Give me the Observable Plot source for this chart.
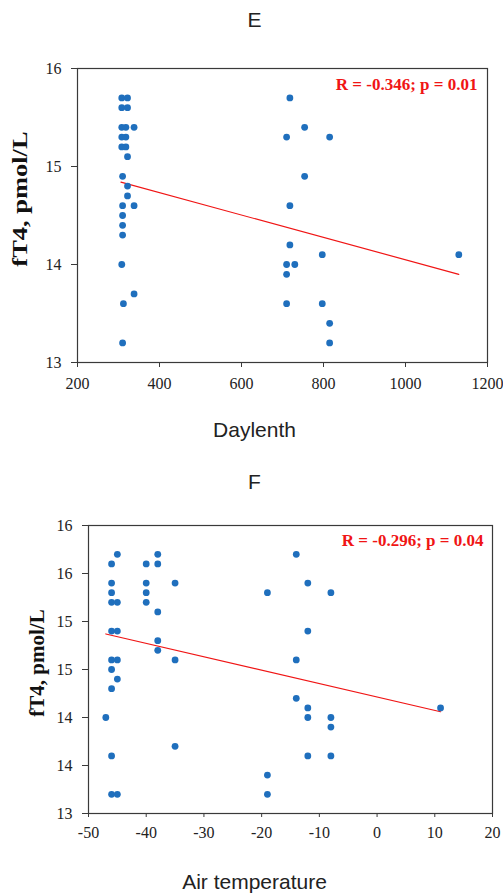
<!DOCTYPE html>
<html>
<head>
<meta charset="utf-8">
<script src="https://cdn.jsdelivr.net/npm/d3@7"></script>
<script src="https://cdn.jsdelivr.net/npm/@observablehq/plot@0.6"></script>
<style>
  html, body { margin: 0; padding: 0; background: #fff; }
  #page { position: relative; width: 503px; height: 893px; overflow: hidden; background: #fff; }
  .title { position: absolute; left: 0; width: 509px; text-align: center; font-family: "Liberation Sans", Arial, sans-serif; font-size: 21px; line-height: 21px; color: #222; }
  .ylab { position: absolute; width: auto; white-space: nowrap; font-family: "Liberation Serif", "Times New Roman", serif; font-weight: bold; font-size: 21px; line-height: 21px; color: #111; }
  .chart { position: absolute; left: 0; }
</style>
</head>
<body>
<div id="page">
  <div class="title" style="top:9px">E</div>
  <div class="title" style="top:419px">Daylenth</div>
  <div class="title" style="top:471px">F</div>
  <div class="title" style="top:871px">Air temperature</div>
  <div class="ylab" style="left:20px;top:199px;transform:translate(-50%,-50%) rotate(-90deg) scaleX(1.26)">fT4, pmol/L</div>
  <div class="ylab" style="left:37px;top:663px;transform:translate(-50%,-50%) rotate(-90deg)">fT4, pmol/L</div>
  <div id="chartE" class="chart" style="top:0px"></div>
  <div id="chartF" class="chart" style="top:450px"></div>
</div>
<script>
// ---- Panel E: Daylenth vs fT4 ----
const daylengthE = [
  308, 322, 308, 322, 308, 318, 338, 308, 318, 308, 318, 322, 310, 322, 322,
  310, 338, 310, 310, 310, 308, 338, 312, 310,
  718, 754, 710, 815, 754, 718, 718, 797, 1130, 710, 730, 710, 710, 797, 815, 815
];
const ft4E = [
  15.7, 15.7, 15.6, 15.6, 15.4, 15.4, 15.4, 15.3, 15.3, 15.2, 15.2, 15.1, 14.9, 14.8, 14.7,
  14.6, 14.6, 14.5, 14.4, 14.3, 14.0, 13.7, 13.6, 13.2,
  15.7, 15.4, 15.3, 15.3, 14.9, 14.6, 14.2, 14.1, 14.1, 14.0, 14.0, 13.9, 13.6, 13.6, 13.4, 13.2
];
const trendXE = [306, 1130];
const trendYE = [14.84, 13.90];
const xTicksE = [200, 400, 600, 800, 1000, 1200];
const yTicksE = [13, 14, 15, 16];
const noteE = "R = -0.346; p = 0.01";

// ---- Panel F: Air temperature vs fT4 ----
const airTempF = [
  -45, -46, -46, -46, -46, -45, -46, -45, -46, -45, -46, -45, -46, -47, -46, -46, -45,
  -40, -40, -40, -40, -38, -38, -38, -38, -38, -35, -35, -35,
  -19, -19, -19,
  -14, -12, -8, -12, -14, -14, -12, -12, -8, -8, -12, -8, 11
];
const ft4F = [
  15.7, 15.6, 15.4, 15.3, 15.2, 15.2, 14.9, 14.9, 14.6, 14.6, 14.5, 14.4, 14.3, 14.0, 13.6, 13.2, 13.2,
  15.6, 15.4, 15.3, 15.2, 15.7, 15.6, 15.1, 14.8, 14.7, 15.4, 14.6, 13.7,
  15.3, 13.4, 13.2,
  15.7, 15.4, 15.3, 14.9, 14.6, 14.2, 14.1, 14.0, 14.0, 13.9, 13.6, 13.6, 14.1
];
const trendXF = [-47, 11];
const trendYF = [14.87, 14.06];
const xTicksF = [-50, -40, -30, -20, -10, 0, 10, 20];
const yTicksF = [13, 13.5, 14, 14.5, 15, 15.5, 16];
const noteF = "R = -0.296; p = 0.04";

const BLUE = "#1f6fbd";
const RED = "#f01515";
const AXIS = "#3a3a3a";

function panel({xs, ys, txs, tys, xdom, xticks, yticks, yfmt, note,
                marginLeft, marginRight, marginTop, marginBottom, height,
                xTickSize, xTickPad, noteDx, noteDy}) {
  const pts = xs.map((x, i) => ({x, y: ys[i]}));
  const trend = txs.map((x, i) => ({x, y: tys[i]}));
  return Plot.plot({
    width: 503,
    height,
    marginLeft, marginRight, marginTop, marginBottom,
    style: {fontFamily: '"Liberation Serif", "Times New Roman", serif', color: "#222", background: "transparent", overflow: "visible"},
    x: {domain: xdom},
    y: {domain: [13, 16]},
    marks: [
      Plot.axisX({ticks: xticks, tickFormat: d => String(d), tickSize: xTickSize, tickPadding: xTickPad,
                  fontSize: 16, label: null, stroke: AXIS}),
      Plot.axisY({ticks: yticks, tickFormat: yfmt, tickSize: 6, tickPadding: 10,
                  fontSize: 16, label: null, stroke: AXIS}),
      Plot.frame({stroke: AXIS, strokeWidth: 1.2}),
      Plot.line(trend, {x: "x", y: "y", stroke: RED, strokeWidth: 1.2}),
      Plot.dot(pts, {x: "x", y: "y", r: 3.4, fill: BLUE, stroke: "none"}),
      Plot.text([note], {frameAnchor: "top-right", text: d => d, dx: noteDx, dy: noteDy,
                         lineAnchor: "bottom", textAnchor: "end", fill: RED, fontWeight: "bold", fontSize: 17})
    ]
  });
}

document.getElementById("chartE").append(panel({
  xs: daylengthE, ys: ft4E, txs: trendXE, tys: trendYE,
  xdom: [200, 1200], xticks: xTicksE, yticks: yTicksE, yfmt: d => String(d), note: noteE,
  marginLeft: 77, marginRight: 16, marginTop: 68, marginBottom: 38, height: 400,
  xTickSize: 5, xTickPad: 10, noteDx: -10, noteDy: 21
}));

document.getElementById("chartF").append(panel({
  xs: airTempF, ys: ft4F, txs: trendXF, tys: trendYF,
  xdom: [-50, 20], xticks: xTicksF, yticks: yTicksF, yfmt: d => String(Math.round(d)), note: noteF,
  marginLeft: 88, marginRight: 11, marginTop: 75, marginBottom: 37, height: 400,
  xTickSize: 4, xTickPad: 9, noteDx: -9, noteDy: 20
}));
</script>
</body>
</html>
